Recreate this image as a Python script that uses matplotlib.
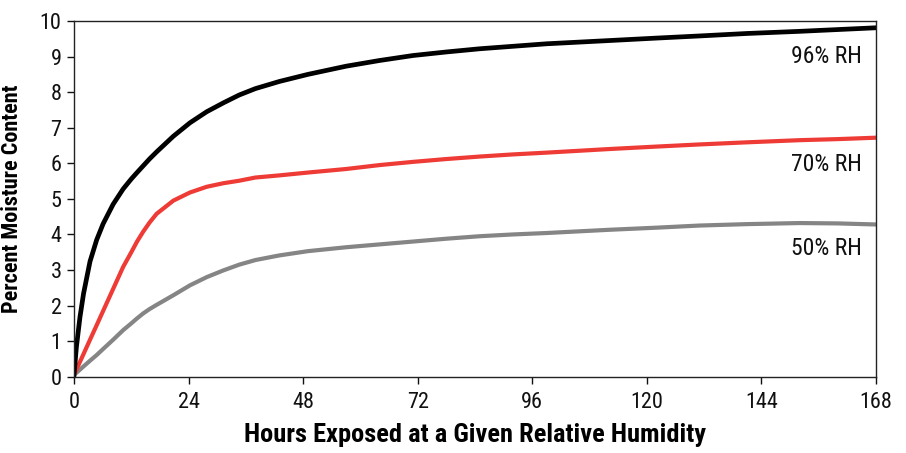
import matplotlib
matplotlib.use("Agg")
import matplotlib.pyplot as plt
from matplotlib import font_manager

names = {f.name for f in font_manager.fontManager.ttflist}
fam = [n for n in ["Roboto Condensed", "Liberation Sans Narrow", "Liberation Sans"] if n in names] + ["DejaVu Sans"]
plt.rcParams['font.family'] = fam

hours = [0, 0.5, 1.25, 2, 3.35, 4.75, 6.1, 8.2, 10.3, 12, 13.2, 14.5, 15.8, 17.3, 20.8, 24.3,
         27.8, 31.3, 34.6, 38, 43, 49, 57, 64, 71, 78, 85, 92, 99, 112, 122, 131, 141, 152, 160, 168]
rh96 = [0.05, 0.84, 1.68, 2.34, 3.24, 3.85, 4.3, 4.85, 5.28, 5.56, 5.74, 5.93, 6.12, 6.32, 6.76, 7.14,
        7.45, 7.70, 7.92, 8.1, 8.3, 8.5, 8.73, 8.89, 9.03, 9.13, 9.22, 9.29, 9.36, 9.45, 9.52, 9.58, 9.65, 9.71, 9.76, 9.81]
rh70 = [0.05, 0.2, 0.42, 0.64, 1.04, 1.45, 1.85, 2.47, 3.09, 3.5, 3.8, 4.08, 4.33, 4.58, 4.95, 5.18,
        5.34, 5.44, 5.51, 5.6, 5.66, 5.74, 5.84, 5.95, 6.04, 6.12, 6.19, 6.25, 6.30, 6.40, 6.47, 6.53, 6.59, 6.65, 6.68, 6.72]
rh50 = [0.05, 0.11, 0.2, 0.29, 0.45, 0.61, 0.78, 1.04, 1.31, 1.5, 1.64, 1.78, 1.9, 2.02, 2.29, 2.57,
        2.80, 2.99, 3.15, 3.28, 3.41, 3.53, 3.64, 3.72, 3.80, 3.88, 3.95, 4.0, 4.04, 4.13, 4.19, 4.25, 4.29, 4.32, 4.31, 4.28]

series_labels = ["96% RH", "70% RH", "50% RH"]
label_y = [9.0, 5.98, 3.6]
xticks = [0, 24, 48, 72, 96, 120, 144, 168]
yticks = list(range(0, 11))

fig = plt.figure(figsize=(9.06, 4.53), dpi=100)
ax = fig.add_axes([0.0817, 0.1684, 0.8852, 0.7852])

ax.plot(hours, rh50, color="#858585", lw=3.0, solid_joinstyle="round")
ax.plot(hours, rh70, color="#ee3b36", lw=3.0, solid_joinstyle="round")
ax.plot(hours, rh96, color="#000000", lw=3.4, solid_joinstyle="round")

for lab, y in zip(series_labels, label_y):
    ax.text(165, y, lab, ha="right", va="center", fontsize=17, color="#111111")

ax.set_xlim(0, 168)
ax.set_ylim(0, 10)
ax.set_xticks(xticks)
ax.set_yticks(yticks)
ax.tick_params(axis="both", direction="out", length=5, width=1.0, labelsize=16, colors="#111111")
ax.tick_params(axis="x", pad=6)
ax.tick_params(axis="y", pad=4)
for s in ax.spines.values():
    s.set_linewidth(1.0)
    s.set_color("#222222")

ax.set_xlabel("Hours Exposed at a Given Relative Humidity", fontsize=19, fontweight="bold", labelpad=7)
ax.set_ylabel("Percent Moisture Content", fontsize=16, fontweight="bold", labelpad=12)

fig.savefig("out.png", dpi=100)
